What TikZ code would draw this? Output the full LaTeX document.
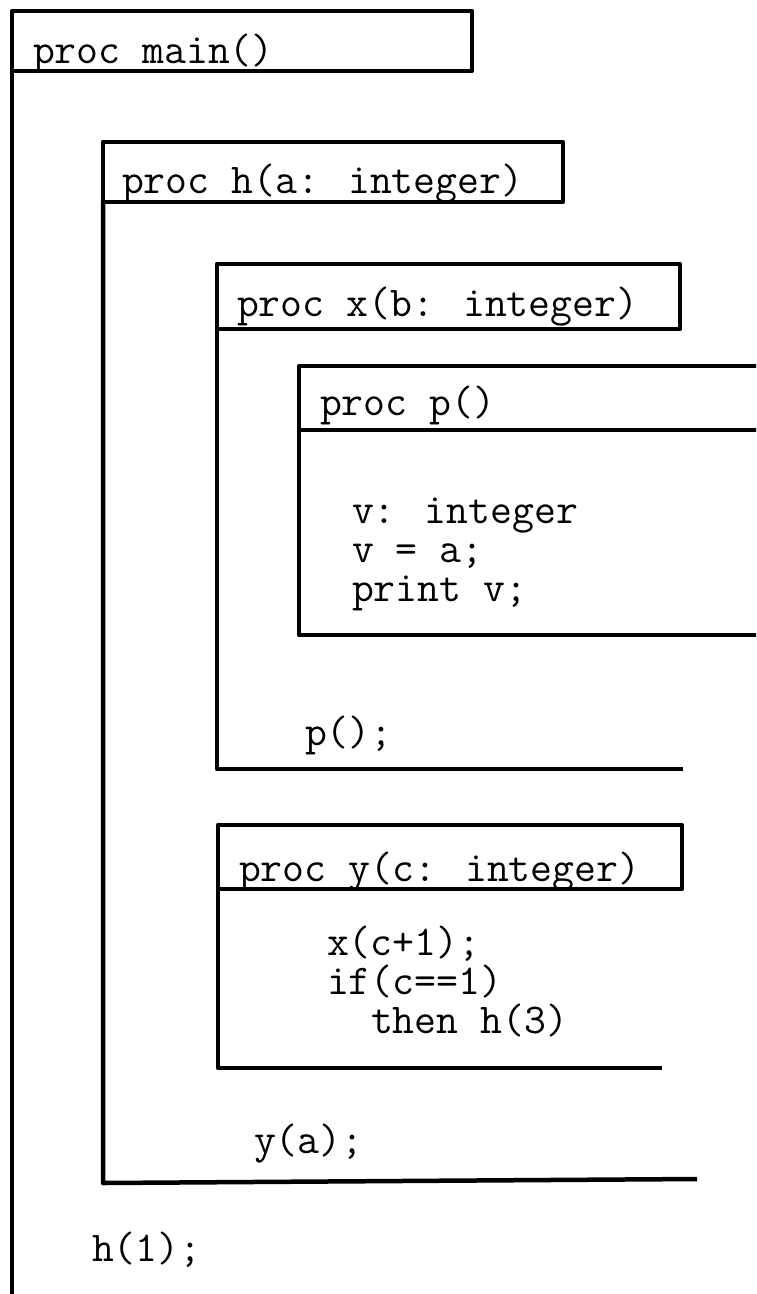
\documentclass[tikz,border=0pt]{standalone}
\begin{document}
\begin{tikzpicture}[x=1pt,y=-1pt,
  frame/.style={line width=4.5pt,line join=round,black},
  code/.style={anchor=base west,inner sep=0pt,outer sep=0pt,font=\ttfamily\fontsize{42.5}{50}\selectfont}]
\useasboundingbox (0,0) rectangle (756,1294);
\clip (0,0) rectangle (756,1294);
% main
\draw[frame] (12,71) rectangle (472,11);
\draw[frame] (12,71) -- (12,1300);
% h
\draw[frame] (103,202) rectangle (563,142);
\draw[frame] (103,202) -- (103,1183) -- (697,1179);
% x
\draw[frame] (217,329) rectangle (680,264);
\draw[frame] (217,329) -- (217,769) -- (683,769);
% p
\draw[frame] (770,366) -- (299,366) -- (299,635) -- (770,635);
\draw[frame] (299,430) -- (770,430);
% y
\draw[frame] (218,889) rectangle (682,825);
\draw[frame] (218,889) -- (218,1068) -- (662,1068);
% texts
\node[code] (tmain) at (33,63) {proc main()};
\node[code] (th) at (122,193) {proc h(a: integer)};
\node[code] (tx) at (237,316) {proc x(b: integer)};
\node[code] (tp) at (320,415) {proc p()};
\node[code] (tv1) at (352,523) {v: integer};
\node[code] (tv2) at (352,562) {v = a;};
\node[code] (tv3) at (352,601) {print v;};
\node[code] (tpc) at (305,745) {p();};
\node[code] (ty) at (239,881) {proc y(c: integer)};
\node[code] (ty1) at (327,955) {x(c+1);};
\node[code] (ty2) at (327,994) {if(c==1)};
\node[code] (ty3) at (371,1033) {then h(3)};
\node[code] (tya) at (254,1153) {y(a);};
\node[code] (th1) at (92,1261) {h(1);};
\end{tikzpicture}
\end{document}
